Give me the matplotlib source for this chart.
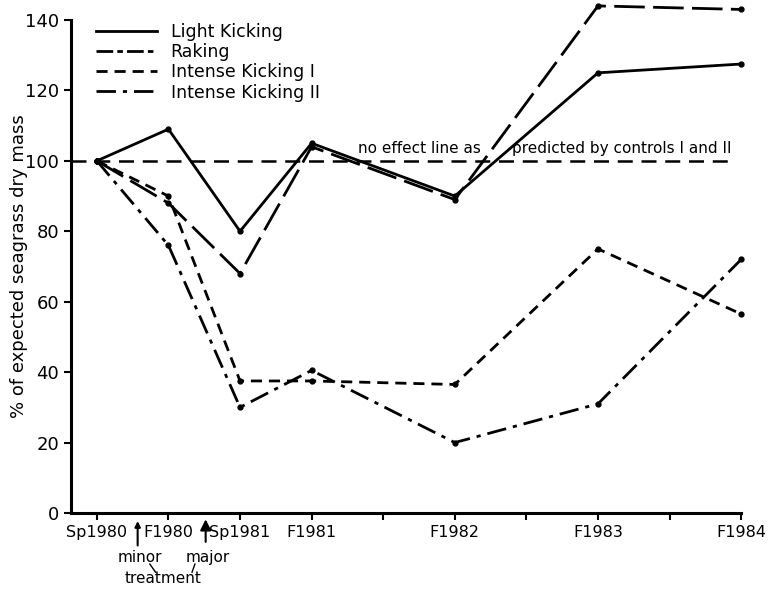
import numpy as np
import matplotlib.pyplot as plt

# sampling times in half-year steps from spring 1980
times = [0, 1, 2, 3, 5, 7, 9]
tick_pos = [0, 1, 2, 3, 4, 5, 6, 7, 8, 9]
tick_labels = ["Sp1980", "F1980", "Sp1981", "F1981", "", "F1982", "", "F1983", "", "F1984"]

light_kicking = [100, 109, 80, 105, 90, 125, 127.5]
raking = [100, 88, 68, 104, 89, 144, 143]
intense_1 = [100, 90, 37.5, 37.5, 36.5, 75, 56.5]
intense_2 = [100, 76, 30, 40.5, 20, 31, 72]

no_effect = 100

plt.rcParams['font.family'] = 'DejaVu Sans'
fig = plt.figure(figsize=(7.81, 5.9), dpi=100)
ax = fig.add_axes([0.091, 0.1305, 0.858, 0.8356])

series = [
    (light_kicking, "Light Kicking", '-'),
    (raking, "Raking", (0, (11, 3))),
    (intense_1, "Intense Kicking I", (0, (4, 2.5))),
    (intense_2, "Intense Kicking II", (0, (7, 2.5, 1.5, 2.5))),
]
handles = []
for vals, name, ls in series:
    h, = ax.plot(times, vals, color='black', lw=2, linestyle=ls,
                 marker='o', markersize=3.5, clip_on=False, label=name)
    handles.append(h)

ax.plot([-0.36, 8.9], [no_effect, no_effect], color='black', lw=1.8,
        linestyle=(0, (6, 3.5)), clip_on=False)
ax.text(3.65, 101.5, "no effect line as", fontsize=11, ha='left', va='bottom')
ax.text(5.8, 101.5, "predicted by controls I and II", fontsize=11, ha='left', va='bottom')

leg_styles = ['-', (0, (6, 1.5, 2, 1.5)), (0, (4, 2.5)), (0, (7, 2.5, 1.5, 2.5))]
ax.legend(handles=[plt.Line2D([], [], color='black', lw=2, linestyle=ls)
                   for ls in leg_styles],
          labels=[s[1] for s in series],
          loc='upper left', bbox_to_anchor=(0.014, 1.025), frameon=False,
          fontsize=12.5, handlelength=3.5, labelspacing=0.12, handletextpad=0.8)

ax.set_xlim(-0.36, 9)
ax.set_ylim(0, 140)
ax.set_xticks(tick_pos)
ax.set_xticklabels(tick_labels, fontsize=11)
ax.set_yticks([0, 20, 40, 60, 80, 100, 120, 140])
ax.tick_params(axis='both', direction='out', length=5, width=1.5)
ax.tick_params(axis='y', labelsize=13)
ax.tick_params(axis='x', labelsize=11.5)
ax.spines['top'].set_visible(False)
ax.spines['right'].set_visible(False)
ax.spines['left'].set_linewidth(2.2)
ax.spines['bottom'].set_linewidth(2.2)
ax.set_ylabel("% of expected seagrass dry mass", fontsize=13)
ax.yaxis.set_label_coords(-0.064, 0.5)

# treatment markers below the axis
ax.annotate("", xy=(0.57, -1.5), xytext=(0.57, -10),
            xycoords='data', textcoords='data', annotation_clip=False,
            arrowprops=dict(arrowstyle='-|>', color='black', lw=1.5, mutation_scale=8))
ax.annotate("", xy=(1.52, -1), xytext=(1.52, -9),
            xycoords='data', textcoords='data', annotation_clip=False,
            arrowprops=dict(arrowstyle='-|>', color='black', lw=1.5, mutation_scale=16))
ax.text(0.6, -12.5, "minor", fontsize=11, ha='center', va='center', clip_on=False)
ax.text(1.55, -12.5, "major", fontsize=11, ha='center', va='center', clip_on=False)
ax.text(0.93, -18.5, "treatment", fontsize=11, ha='center', va='center', clip_on=False)
ax.plot([0.74, 0.82], [-14.5, -16.8], color='black', lw=1, clip_on=False)
ax.plot([1.37, 1.33], [-14.5, -16.8], color='black', lw=1, clip_on=False)

fig.savefig("out.png", dpi=100)
